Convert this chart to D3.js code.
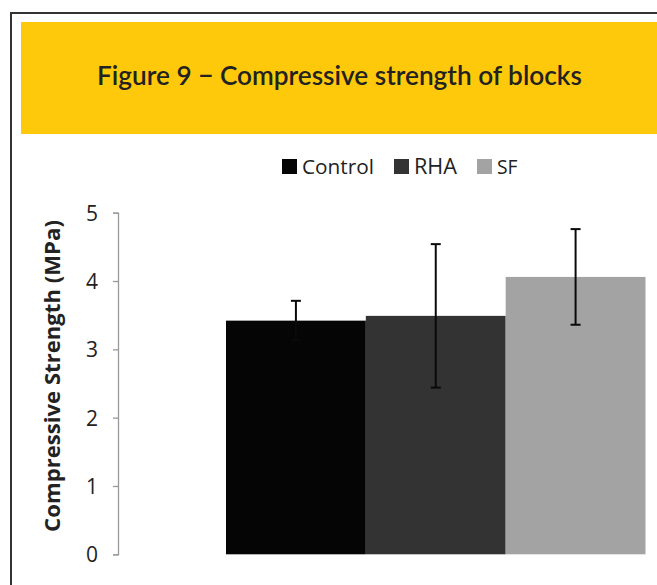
<!DOCTYPE html>
<html><head><meta charset="utf-8">
<script src="https://cdn.jsdelivr.net/npm/d3@7"></script>
<style>body{margin:0;background:#fff}svg{display:block}</style>
</head><body>
<script>
const categories = ["Control", "RHA", "SF"];
const values = [3.42, 3.49, 4.06];
const errors = [0.29, 1.05, 0.70];
const colors = ["#050505", "#333333", "#a3a3a3"];
const yTicks = [0, 1, 2, 3, 4, 5];
const titleText = "Figure 9 \u2212 Compressive strength of blocks";
const yLabel = "Compressive Strength (MPa)";

const W = 657, H = 585;
const svg = d3.select("body").append("svg").attr("width", W).attr("height", H);

function fit(sel, target) {
  const fs = +sel.attr("font-size");
  const w = sel.node().getComputedTextLength();
  if (w > 0) sel.attr("font-size", fs * target / w);
}

// frame
svg.append("path").attr("d", `M11,${H} V13 H${W}`).attr("fill","none").attr("stroke","#333").attr("stroke-width",2);
// yellow header
svg.append("rect").attr("x",21).attr("y",22).attr("width",W-21).attr("height",112).attr("fill","#fdc90a");
const t = svg.append("text").attr("x",339.5).attr("y",85).attr("text-anchor","middle")
  .attr("font-family","Lato, 'DejaVu Sans', sans-serif").attr("font-size",24).attr("font-weight",600)
  .attr("fill","#222").text(titleText);
fit(t, 485);

const x = d3.scaleBand().domain(categories).range([226, 645.5]).padding(0);
const y = d3.scaleLinear().domain([0,5]).range([554.3, 212.7]);

// y axis
const ax = svg.append("g").attr("transform","translate(118,0)")
  .call(d3.axisLeft(y).tickValues(yTicks).tickSize(5).tickPadding(15).tickFormat(d3.format("d")));
ax.select(".domain").attr("stroke","#999").attr("stroke-width",1.3);
ax.selectAll(".tick line").attr("stroke","#999").attr("stroke-width",1.3);
ax.selectAll(".tick text").attr("font-family","\"Open Sans\", sans-serif").attr("font-size",21).attr("fill","#222").attr("dy","0.36em");

const yl = svg.append("text").attr("transform","translate(60,376) rotate(-90)").attr("text-anchor","middle")
  .attr("font-family","\"Open Sans\", sans-serif").attr("font-weight","bold").attr("font-size",20)
  .attr("fill","#222").text(yLabel);
fit(yl, 312);

// bars
svg.selectAll("rect.bar").data(categories).join("rect").attr("class","bar")
  .attr("x", d=>x(d)).attr("width", x.bandwidth())
  .attr("y", (d,i)=>y(values[i])).attr("height",(d,i)=>y(0)-y(values[i]))
  .attr("fill",(d,i)=>colors[i]);

// error bars
const eb = svg.selectAll("g.eb").data(categories).join("g").attr("class","eb");
eb.append("line").attr("x1",d=>x(d)+x.bandwidth()/2).attr("x2",d=>x(d)+x.bandwidth()/2)
  .attr("y1",(d,i)=>y(values[i]+errors[i])).attr("y2",(d,i)=>y(values[i]-errors[i]))
  .attr("stroke","#0a0a0a").attr("stroke-width",2);
[1,-1].forEach(s=>{
  eb.append("line").attr("x1",d=>x(d)+x.bandwidth()/2-5).attr("x2",d=>x(d)+x.bandwidth()/2+5)
    .attr("y1",(d,i)=>y(values[i]+s*errors[i])).attr("y2",(d,i)=>y(values[i]+s*errors[i]))
    .attr("stroke","#0a0a0a").attr("stroke-width",2);
});

// legend
const legX = [282, 394, 477];
const legW = [72, 43, 20.5];
const lg = svg.selectAll("g.lg").data(categories).join("g").attr("class","lg")
  .attr("transform",(d,i)=>`translate(${legX[i]},159)`);
lg.append("rect").attr("width",15).attr("height",15).attr("fill",(d,i)=>colors[i]);
lg.append("text").attr("x",20).attr("y",14.5).attr("font-family","\"Open Sans\", sans-serif")
  .attr("font-size",20).attr("fill","#222").text(d=>d)
  .each(function(d,i){ fit(d3.select(this), legW[i]); });
</script>
</body></html>
